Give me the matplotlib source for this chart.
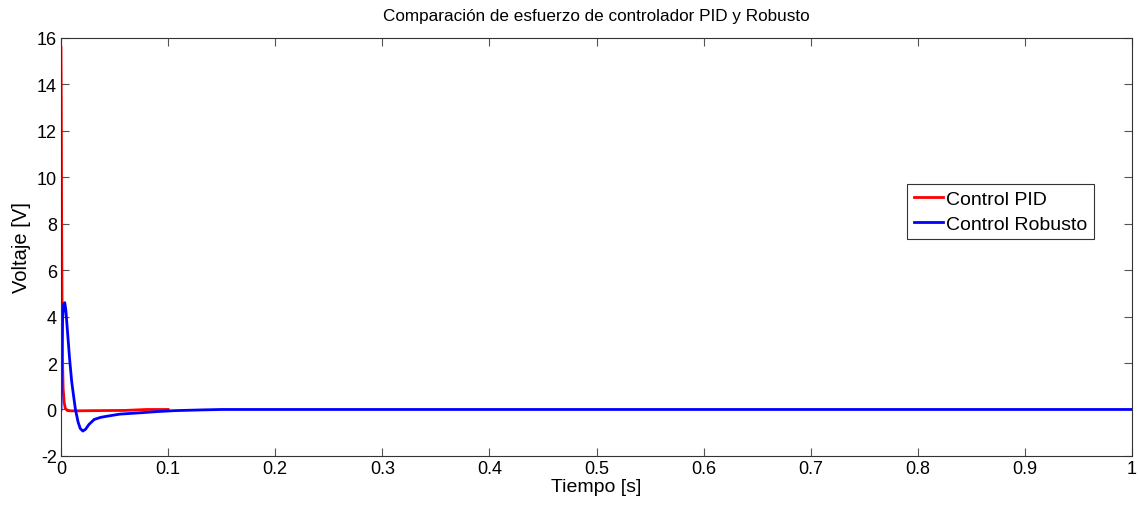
import matplotlib.pyplot as plt

# valores
t_pid = [0.0, 0.0003, 0.0006, 0.001, 0.0015, 0.002, 0.003, 0.004, 0.006, 0.01, 0.03, 0.06, 0.08, 0.1]
u_pid = [15.6, 13.0, 8.0, 4.5, 2.0, 0.9, 0.3, 0.05, -0.05, -0.06, -0.05, -0.04, 0.0, 0.0]

t_rob = [0.0, 0.0008, 0.0015, 0.0025, 0.0035, 0.0045, 0.006, 0.008, 0.010, 0.012, 0.0135,
         0.016, 0.018, 0.0204, 0.023, 0.026, 0.031, 0.037, 0.043, 0.055, 0.075, 0.09,
         0.106, 0.13, 0.15, 0.2, 0.4, 0.6, 0.8, 1.0]
u_rob = [0.0, 2.5, 3.9, 4.55, 4.6, 4.3, 3.4, 2.2, 1.2, 0.5, 0.0,
         -0.55, -0.82, -0.93, -0.85, -0.65, -0.43, -0.34, -0.29, -0.2, -0.14, -0.09,
         -0.05, -0.02, 0.0, 0.0, 0.0, 0.0, 0.0, 0.0]

plt.rcParams['font.family'] = ['Liberation Sans', 'DejaVu Sans']
plt.rcParams['axes.unicode_minus'] = False

fig = plt.figure(figsize=(11.4, 5.06), dpi=100)
ax = fig.add_axes([0.0535, 0.097, 0.9395, 0.826])

ax.plot(t_pid, u_pid, color='red', lw=2, label='Control PID')
ax.plot(t_rob, u_rob, color='blue', lw=2, label='Control Robusto')

ax.set_xlim(0, 1)
ax.set_ylim(-2, 16)
ax.set_xticks([0, 0.1, 0.2, 0.3, 0.4, 0.5, 0.6, 0.7, 0.8, 0.9, 1])
ax.set_xticklabels(['0', '0.1', '0.2', '0.3', '0.4', '0.5', '0.6', '0.7', '0.8', '0.9', '1'])
ax.set_yticks(range(-2, 17, 2))
ax.tick_params(direction='in', top=True, right=True, length=6, labelsize=13,
               color='#555555', pad=3)
for s in ax.spines.values():
    s.set_color('#333333')

ax.set_title('Comparación de esfuerzo de controlador PID y Robusto', fontsize=12.3, pad=13)
ax.set_xlabel('Tiempo [s]', fontsize=14, labelpad=1)
ax.set_ylabel('Voltaje [V]', fontsize=14.5, labelpad=4)

leg = ax.legend(loc='upper left', bbox_to_anchor=(0.790, 0.651), fontsize=14,
                fancybox=False, framealpha=1, edgecolor='#333333',
                handlelength=1.5, handletextpad=0.15, borderpad=0.35, labelspacing=0.35,
                borderaxespad=0)
leg.get_frame().set_linewidth(0.8)

fig.savefig('out.png')
